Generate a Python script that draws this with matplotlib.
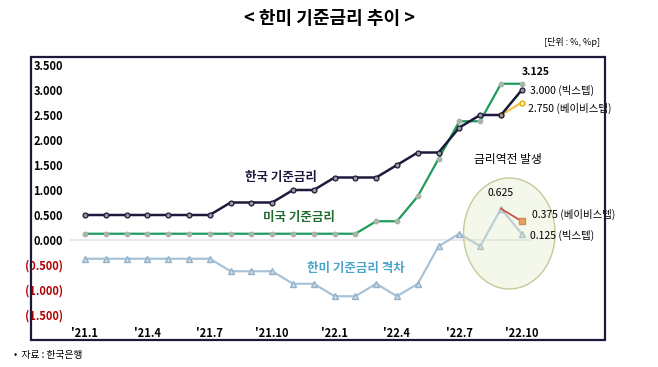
import numpy as np
import matplotlib.pyplot as plt
from matplotlib.patches import Ellipse, Rectangle

plt.rcParams['font.family'] = ['Noto Sans CJK KR', 'DejaVu Sans']

# months '21.1 .. '22.10
months = ["'21.1", "'21.2", "'21.3", "'21.4", "'21.5", "'21.6", "'21.7", "'21.8",
          "'21.9", "'21.10", "'21.11", "'21.12", "'22.1", "'22.2", "'22.3", "'22.4",
          "'22.5", "'22.6", "'22.7", "'22.8", "'22.9", "'22.10"]
tick_idx = [0, 3, 6, 9, 12, 15, 18, 21]

korea = [0.5, 0.5, 0.5, 0.5, 0.5, 0.5, 0.5, 0.75, 0.75, 0.75, 1.0, 1.0,
         1.25, 1.25, 1.25, 1.5, 1.75, 1.75, 2.25, 2.5, 2.5, 3.0]
korea_baby = [2.5, 2.75]  # '22.9 -> '22.10 baby step
us = [0.125] * 14 + [0.375, 0.375, 0.875, 1.625, 2.375, 2.375, 3.125, 3.125]
gap = [u - k for u, k in zip(us, korea)]
gap_baby = [gap[20], us[21] - korea_baby[1]]

yticks = [3.5, 3.0, 2.5, 2.0, 1.5, 1.0, 0.5, 0.0, -0.5, -1.0, -1.5]

NAVY = '#1b1a3c'
GREEN = '#1f9b5c'
LBLUE = '#a8c3d8'

fig = plt.figure(figsize=(6.58, 3.67), dpi=100)
ax = fig.add_axes([70/658, 1-320/367, 530/658, 260/367])

x = np.arange(len(months))
ax.axhline(0, color='#e4e4e4', lw=1.2, xmax=0.87, zorder=0)

ax.plot(x, us, color=GREEN, lw=1.6, marker='o', ms=3.2, mfc='#a9b5a9', mec='#a9b5a9', zorder=2)
ax.plot(x, korea, color=NAVY, lw=1.8, marker='o', ms=3.5, mfc='#9a9a9a', mec=NAVY, mew=0.9, zorder=3)
ax.plot(x[20:22], korea_baby, color='#f2c14e', lw=1.6, marker='o', ms=3.5, mfc='#fff3c0',
        mec='#e0a800', zorder=2.5)
ax.plot(x, gap, color=LBLUE, lw=1.6, marker='^', ms=4.5, mfc='#c9dbe8', mec='#93b2c9', zorder=2)
ax.plot(x[20:22], gap_baby, color='#c00000', lw=1.3, zorder=2.6)
ax.plot(x[21], gap_baby[1], marker='s', ms=5, mfc='#ed7d31', mec='#c55a11', zorder=2.7)

# translucent circle highlighting the inversion
ax.add_patch(Ellipse((20.4, 0.13), 4.4, 2.22, facecolor=(0.88, 0.92, 0.78, 0.35),
                     edgecolor='#c4ca98', lw=1.0, zorder=2.8))

ax.set_xlim(-0.72, 24.76)
ax.set_ylim(-1.6, 3.6)
ax.set_yticks(yticks)
ax.set_yticklabels([f'{v:.3f}' if v >= 0 else f'({-v:.3f})' for v in yticks])
for lab, v in zip(ax.get_yticklabels(), yticks):
    lab.set_color('#b00000' if v < 0 else 'black')
    lab.set_fontweight('bold')
    lab.set_fontsize(8)
ax.set_xticks(tick_idx)
ax.set_xticklabels([months[i] for i in tick_idx], fontsize=8, fontweight='bold')
ax.tick_params(length=0, pad=5)
for s in ax.spines.values():
    s.set_visible(False)

# series labels
ax.text(9.4, 1.26, '한국 기준금리', color=NAVY, fontsize=9, fontweight='bold', ha='center', va='center')
ax.text(10.3, 0.46, '미국 기준금리', color='#1e6b2f', fontsize=9, fontweight='bold', ha='center', va='center')
ax.text(13.0, -0.57, '한미 기준금리 격차', color='#4aa3c8', fontsize=9, fontweight='bold', ha='center', va='center')

# end annotations
ax.text(21.0, 3.36, '3.125', fontsize=7.5, fontweight='bold', ha='left', va='center')
ax.text(21.4, 3.0, '3.000 (빅스텝)', fontsize=7.5, ha='left', va='center')
ax.text(21.3, 2.64, '2.750 (베이비스텝)', fontsize=7.5, ha='left', va='center')
ax.text(20.35, 1.6, '금리역전 발생', fontsize=8.5, ha='center', va='center')
ax.text(20.0, 0.94, '0.625', fontsize=7.5, ha='center', va='center', zorder=4)
ax.text(21.5, 0.52, '0.375 (베이비스텝)', fontsize=7.5, ha='left', va='center', zorder=4)
ax.text(21.4, 0.1, '0.125 (빅스텝)', fontsize=7.5, ha='left', va='center', zorder=4)

# outer frame
fig.add_artist(Rectangle((31/658, 1-340/367), 574/658, 283/367, transform=fig.transFigure,
                         fill=False, edgecolor=NAVY, lw=1.6))

fig.text(0.5, 1-18/367, '< 한미 기준금리 추이 >', ha='center', va='center', fontsize=13, fontweight='bold')
fig.text(600/658, 1-42/367, '[단위 : %, %p]', ha='right', va='center', fontsize=6.5)
fig.text(14/658, 1-355/367, '•  자료 : 한국은행', ha='left', va='center', fontsize=7)

fig.savefig('out.png', dpi=100)
